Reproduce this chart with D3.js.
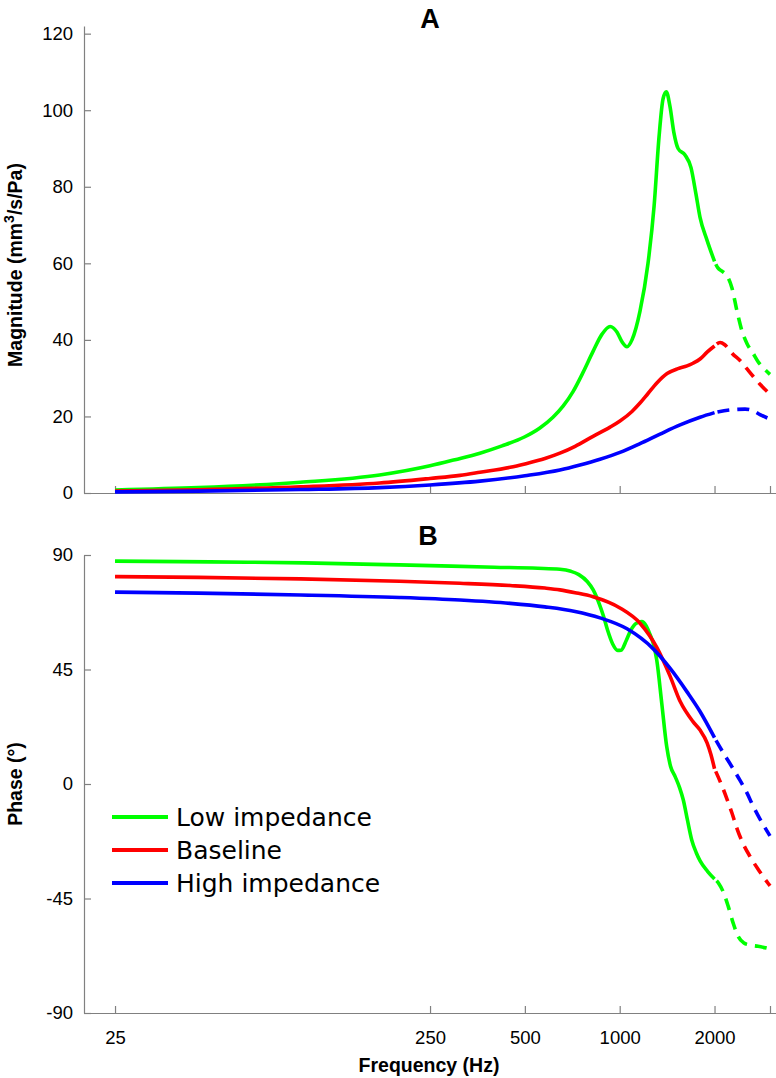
<!DOCTYPE html>
<html><head><meta charset="utf-8">
<script src="https://cdn.jsdelivr.net/npm/d3@7"></script>
<style>
body{margin:0;background:#fff}
svg{display:block}
text{font-family:"Liberation Sans",Arial,sans-serif}
</style>
</head><body>
<svg id="chart" width="776" height="1078"></svg>
<script>
// ---------- data ----------
const tickFreqs = [25, 250, 500, 1000, 2000, 3000];
const tickFreqLabels = ["25", "250", "500", "1000", "2000", ""];
const magTicks = [0, 20, 40, 60, 80, 100, 120];
const phaseTicks = [-90, -45, 0, 45, 90];
const seriesNames = ["Low impedance", "Baseline", "High impedance"];
const seriesColors = ["#00ff00", "#ff0000", "#0000ff"];
const dashFrom = 2000; // curves are dashed above 2 kHz

// magnitude (mm^3/s/Pa) : [frequency Hz, value]
const magLow = [[25,0.8],[46,1.4],[97,2.8],[173,4.7],[250,7.1],[300,8.7],[360,10.4],[423,12.3],[500,14.7],[558,17.0],[614,19.8],[661,22.7],[711,26.5],[765,31.5],[823,37],[879,41.5],[932,43.5],[981,42],[1017,39.5],[1055,38.2],[1094,40],[1160,47.5],[1230,60],[1286,75],[1333,93],[1373,103],[1406,104.8],[1444,101],[1487,94],[1532,90],[1612,88.3],[1684,85],[1747,78],[1799,72],[1894,66],[2000,60.5],[2050,58.8],[2108,58],[2150,57.5],[2200,56.5],[2273,53.5],[2357,47.5],[2445,42.3],[2537,39],[2651,36.5],[2750,34.3],[2870,32.5],[3000,31]];
const magBase = [[25,0.5],[46,0.85],[97,1.6],[173,2.6],[250,3.8],[311,4.6],[360,5.4],[449,6.7],[500,7.6],[579,9.0],[646,10.4],[722,12.2],[823,14.8],[932,17.2],[1002,18.8],[1094,21.3],[1160,23.5],[1230,26],[1314,28.8],[1414,31.2],[1532,32.5],[1636,33.2],[1709,33.9],[1799,35],[1894,36.8],[2000,38.4],[2083,39.3],[2150,38.8],[2208,37.8],[2273,36.5],[2410,34.6],[2537,32.4],[2651,30.5],[2789,28.4],[3000,25.8]];
const magHigh = [[25,0.3],[46,0.5],[97,0.9],[173,1.4],[250,2.1],[360,3.1],[500,4.5],[646,6.0],[748,7.3],[866,8.8],[1002,10.6],[1160,12.9],[1343,15.4],[1555,17.8],[1799,19.8],[2000,21.0],[2240,21.7],[2500,21.9],[2650,21.5],[2789,20.5],[3000,19.3]];

// phase (degrees) : [frequency Hz, value]
const phaseLow = [[25,87.6],[50,87.3],[100,86.9],[200,86.1],[400,85.2],[550,84.8],[646,84.4],[700,83.6],[742,82.3],[790,79.5],[824,76.3],[860,71],[888,66],[915,60.5],[950,55],[985,52.5],[1010,52.6],[1050,56.5],[1085,60.5],[1130,63.2],[1175,63.8],[1215,62],[1244,59.2],[1280,55],[1311,48.7],[1360,31.7],[1410,14.7],[1450,7],[1500,2.9],[1550,-1.5],[1592,-6.3],[1640,-14],[1693,-22],[1750,-27],[1800,-30.2],[1900,-34.3],[2000,-37.3],[2060,-39],[2133,-42.5],[2212,-48.2],[2294,-54.8],[2379,-60],[2480,-62.5],[2593,-63.3],[2750,-63.8],[3000,-64.8]];
const phaseBase = [[25,81.5],[46,81.2],[97,80.6],[200,79.7],[311,78.9],[449,78.0],[579,77.0],[646,76.3],[722,75.2],[823,73.6],[1002,69.2],[1160,63.2],[1314,53.5],[1444,42.5],[1555,32.5],[1709,24.5],[1799,21.2],[1894,16.2],[1949,11.5],[2000,6.0],[2108,-0.5],[2192,-6],[2273,-11.5],[2357,-17.5],[2445,-22.5],[2593,-28.5],[2750,-33.5],[2957,-39],[3000,-40]];
const phaseHigh = [[25,75.4],[46,75.0],[97,74.3],[200,73.3],[311,72.3],[449,71.0],[579,69.6],[722,67.8],[866,65.3],[1055,61.0],[1276,53.2],[1444,45.5],[1636,36.2],[1799,28.5],[2000,18.2],[2129,12.4],[2273,6.7],[2410,1.4],[2537,-3.6],[2651,-8.6],[2789,-13.8],[3000,-20.4]];

const magSeries = [magLow, magBase, magHigh];
const phaseSeries = [phaseLow, phaseBase, phaseHigh];

// ---------- layout ----------
const svg = d3.select("#chart");
const axisColor = "#808080";
const x = d3.scaleLog().domain([20, 3130]).range([84.5, 775.8]);
const yMag = d3.scaleLinear().domain([0, 122]).range([493, 26]);
const yPh = d3.scaleLinear().domain([-90, 90]).range([1013, 555]);

function drawPanel(yScale, yTicks, seriesList, showXLabels) {
  const g = svg.append("g");
  const xAxis = d3.axisBottom(x).tickValues(tickFreqs)
    .tickSizeInner(-7).tickSizeOuter(0).tickPadding(18)
    .tickFormat((d, i) => showXLabels ? tickFreqLabels[i] : "");
  const gx = g.append("g").attr("transform", `translate(0,${yScale.range()[0]})`).call(xAxis);
  const yAxis = d3.axisLeft(yScale).tickValues(yTicks)
    .tickSizeInner(-7).tickSizeOuter(0).tickPadding(11)
    .tickFormat(d => String(d));
  const gy = g.append("g").attr("transform", "translate(84,0)").call(yAxis);
  [gx, gy].forEach(a => {
    a.selectAll("path, line").attr("stroke", axisColor).attr("stroke-width", 1.2);
    a.selectAll("text").attr("fill", "#000").style("font-size", "18.5px")
      .style("font-family", '"Liberation Sans", Arial, sans-serif');
  });
  const line = d3.line().x(d => x(d[0])).y(d => yScale(d[1])).curve(d3.curveMonotoneX);
  seriesList.forEach((s, i) => {
    g.append("path").datum(s.filter(d => d[0] <= dashFrom))
      .attr("d", line).attr("fill", "none").attr("stroke", seriesColors[i])
      .attr("stroke-width", 3.6).attr("stroke-linecap", "butt");
    g.append("path").datum(s.filter(d => d[0] >= dashFrom))
      .attr("d", line).attr("fill", "none").attr("stroke", seriesColors[i])
      .attr("stroke-width", 3.6).attr("stroke-dasharray", "12,8").attr("stroke-dashoffset", 17);
  });
  return g;
}

drawPanel(yMag, magTicks, magSeries, false);
drawPanel(yPh, phaseTicks, phaseSeries, true);

// titles
svg.append("text").attr("x", 430).attr("y", 28).attr("text-anchor", "middle")
  .style("font-size", "27px").style("font-weight", "bold").text("A");
svg.append("text").attr("x", 428).attr("y", 545).attr("text-anchor", "middle")
  .style("font-size", "27px").style("font-weight", "bold").text("B");

// axis labels
const yl1 = svg.append("text").attr("transform", "translate(22,265) rotate(-90)")
  .attr("text-anchor", "middle").style("font-size", "19.5px").style("font-weight", "bold");
yl1.append("tspan").text("Magnitude (mm");
yl1.append("tspan").attr("dy", -8).style("font-size", "14px").text("3");
yl1.append("tspan").attr("dy", 8).text("/s/Pa)");

svg.append("text").attr("transform", "translate(22,784) rotate(-90)")
  .attr("text-anchor", "middle").style("font-size", "19.5px").style("font-weight", "bold")
  .text("Phase (°)");

svg.append("text").attr("x", 429).attr("y", 1072).attr("text-anchor", "middle")
  .style("font-size", "19.5px").style("font-weight", "bold").text("Frequency (Hz)");

// legend
const leg = svg.append("g");
seriesNames.forEach((n, i) => {
  const yy = 817 + i * 33;
  leg.append("line").attr("x1", 112).attr("x2", 168).attr("y1", yy).attr("y2", yy)
    .attr("stroke", seriesColors[i]).attr("stroke-width", 4);
  leg.append("text").attr("x", 176).attr("y", yy).attr("dy", "0.36em")
    .style("font-size", "25px").style("font-family", '"DejaVu Sans", sans-serif')
    .attr("fill", "#000").text(n);
});
</script>
</body></html>
